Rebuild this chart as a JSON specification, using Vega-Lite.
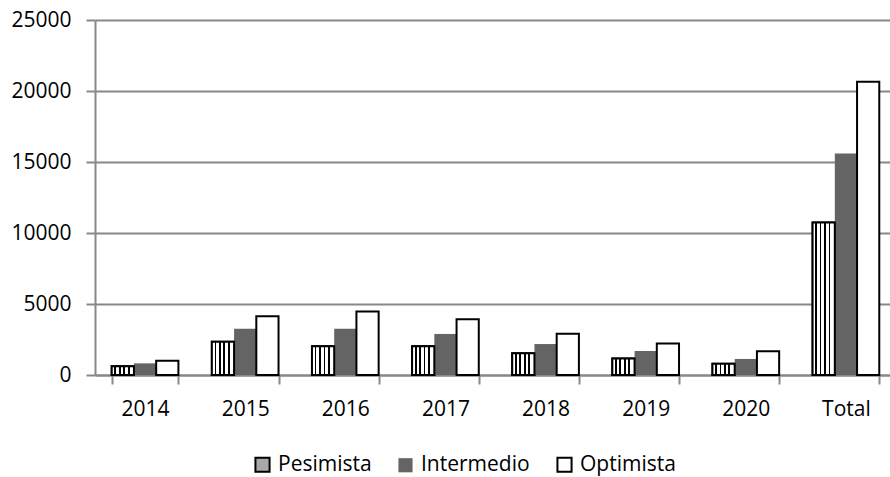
{
  "$schema": "https://vega.github.io/schema/vega-lite/v6.json",
  "width": 801,
  "height": 355,
  "autosize": {"type": "none"},
  "padding": {"left": 95, "top": 20, "right": 0, "bottom": 102},
  "background": "white",
  "config": {"view": {"stroke": null}, "font": "Open Sans"},
  "data": {
    "values": [
      {"year": "2014", "scenario": "Pesimista", "value": 620},
      {"year": "2014", "scenario": "Intermedio", "value": 820},
      {"year": "2014", "scenario": "Optimista", "value": 1000},
      {"year": "2015", "scenario": "Pesimista", "value": 2350},
      {"year": "2015", "scenario": "Intermedio", "value": 3250},
      {"year": "2015", "scenario": "Optimista", "value": 4130},
      {"year": "2016", "scenario": "Pesimista", "value": 2030},
      {"year": "2016", "scenario": "Intermedio", "value": 3250},
      {"year": "2016", "scenario": "Optimista", "value": 4470},
      {"year": "2017", "scenario": "Pesimista", "value": 2030},
      {"year": "2017", "scenario": "Intermedio", "value": 2890},
      {"year": "2017", "scenario": "Optimista", "value": 3930},
      {"year": "2018", "scenario": "Pesimista", "value": 1530},
      {"year": "2018", "scenario": "Intermedio", "value": 2180},
      {"year": "2018", "scenario": "Optimista", "value": 2900},
      {"year": "2019", "scenario": "Pesimista", "value": 1160},
      {"year": "2019", "scenario": "Intermedio", "value": 1690},
      {"year": "2019", "scenario": "Optimista", "value": 2220},
      {"year": "2020", "scenario": "Pesimista", "value": 800},
      {"year": "2020", "scenario": "Intermedio", "value": 1130},
      {"year": "2020", "scenario": "Optimista", "value": 1680},
      {"year": "Total", "scenario": "Pesimista", "value": 10740},
      {"year": "Total", "scenario": "Intermedio", "value": 15590},
      {"year": "Total", "scenario": "Optimista", "value": 20650}
    ]
  },
  "encoding": {
    "x": {
      "field": "year",
      "type": "nominal",
      "sort": null,
      "scale": {"paddingInner": 0.334, "paddingOuter": 0.167},
      "axis": {
        "title": null,
        "labelAngle": 0,
        "labelFontSize": 21,
        "labelColor": "black",
        "labelPadding": 14,
        "domainColor": "#888888",
        "domainWidth": 2,
        "tickColor": "#888888",
        "tickWidth": 2,
        "tickSize": 9,
        "tickBand": "extent"
      }
    },
    "xOffset": {
      "field": "scenario",
      "type": "nominal",
      "sort": ["Pesimista", "Intermedio", "Optimista"],
      "scale": {"domain": ["Pesimista", "Intermedio", "Optimista"]}
    },
    "y": {
      "field": "value",
      "type": "quantitative",
      "scale": {"domain": [0, 25000], "nice": false},
      "axis": {
        "title": null,
        "values": [0, 5000, 10000, 15000, 20000, 25000],
        "format": "d",
        "labelFontSize": 21,
        "labelColor": "black",
        "labelPadding": 15,
        "grid": true,
        "gridColor": "#888888",
        "gridWidth": 2,
        "domainColor": "#888888",
        "domainWidth": 2,
        "tickColor": "#888888",
        "tickWidth": 2,
        "tickSize": 9
      }
    }
  },
  "layer": [
    {
      "mark": {"type": "bar", "stroke": "black"},
      "encoding": {
        "fill": {
          "field": "scenario",
          "type": "nominal",
          "sort": ["Pesimista", "Intermedio", "Optimista"],
          "scale": {
            "domain": ["Pesimista", "Intermedio", "Optimista"],
            "range": ["#a8a8a8", "#646464", "#ffffff"]
          },
          "legend": {
            "title": null,
            "orient": "none",
            "legendX": 157,
            "legendY": 434,
            "direction": "horizontal",
            "symbolType": "square",
            "symbolSize": 200,
            "symbolStrokeColor": "black",
            "symbolStrokeWidth": 2,
            "symbolOpacity": 1,
            "labelFontSize": 21,
            "labelColor": "black",
            "labelOffset": 5,
            "columnPadding": 23,
            "encode": {
              "symbols": {
                "update": {
                  "strokeWidth": {"signal": "datum.value === 'Intermedio' ? 0 : 2"}
                }
              }
            }
          }
        },
        "strokeWidth": {
          "condition": {"test": "datum.scenario === 'Intermedio'", "value": 0},
          "value": 2
        }
      }
    },
    {
      "transform": [{"filter": "datum.scenario === 'Pesimista'"}],
      "mark": {
        "type": "bar",
        "stroke": "black",
        "strokeWidth": 2,
        "fill": {
          "gradient": "linear",
          "x1": 0, "y1": 0, "x2": 1, "y2": 0,
          "stops": [
            {"offset": 0, "color": "white"},
            {"offset": 0.12, "color": "white"},
            {"offset": 0.12, "color": "black"},
            {"offset": 0.2, "color": "black"},
            {"offset": 0.2, "color": "white"},
            {"offset": 0.32, "color": "white"},
            {"offset": 0.32, "color": "black"},
            {"offset": 0.4, "color": "black"},
            {"offset": 0.4, "color": "white"},
            {"offset": 0.52, "color": "white"},
            {"offset": 0.52, "color": "black"},
            {"offset": 0.6, "color": "black"},
            {"offset": 0.6, "color": "white"},
            {"offset": 0.72, "color": "white"},
            {"offset": 0.72, "color": "black"},
            {"offset": 0.8, "color": "black"},
            {"offset": 0.8, "color": "white"},
            {"offset": 1, "color": "white"}
          ]
        }
      }
    }
  ]
}
